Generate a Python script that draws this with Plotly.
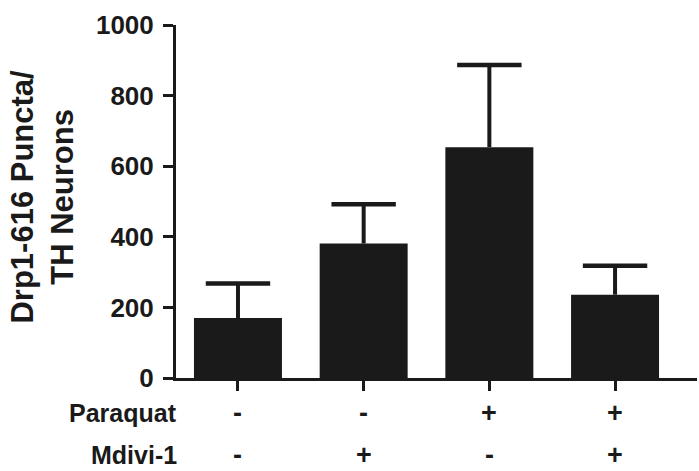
import plotly.graph_objects as go

# Group means and upper SEM for Drp1-616 puncta per TH neuron
groups = ["ctrl", "mdivi", "pq", "pq_mdivi"]
means = [170, 381, 654, 236]
sem_upper = [98, 111, 233, 82]

# Treatment design rows shown under the axis
paraquat = ["-", "-", "+", "+"]
mdivi = ["-", "+", "-", "+"]

y_ticks = [0, 200, 400, 600, 800, 1000]

INK = "#1a1a1a"
FONT = "Liberation Sans, Arial, sans-serif"

x_pos = list(range(len(groups)))
cap_tops = [m + e for m, e in zip(means, sem_upper)]

fig = go.Figure()
# Bars with upward error stems (caps drawn separately so none sit on the bar top)
fig.add_trace(go.Bar(
    x=x_pos,
    y=means,
    width=0.7,
    marker=dict(color=INK, line=dict(width=0)),
    error_y=dict(
        type="data",
        symmetric=False,
        array=sem_upper,
        arrayminus=[0] * len(means),
        color=INK,
        thickness=4,
        width=0,
    ),
    showlegend=False,
    hoverinfo="skip",
))
# Error-bar caps
fig.add_trace(go.Scatter(
    x=x_pos,
    y=cap_tops,
    mode="markers",
    marker=dict(symbol="line-ew", size=46, color=INK,
                line=dict(color=INK, width=4.5)),
    showlegend=False,
    hoverinfo="skip",
    cliponaxis=False,
))

annotations = []
# Y-axis title (two lines, rotated)
annotations.append(dict(
    text="<b>Drp1-616 Puncta/<br>TH Neurons</b>",
    xref="paper", yref="paper", x=-0.256, y=0.513,
    xanchor="center", yanchor="middle", textangle=-90,
    showarrow=False, font=dict(family=FONT, size=31, color=INK),
))

row_labels = [("Paraquat", paraquat, -0.098), ("Mdivi-1", mdivi, -0.218)]
for label, signs, yy in row_labels:
    annotations.append(dict(
        text=f"<b>{label}</b>", xref="paper", yref="paper",
        x=0.006, y=yy, xanchor="right", yanchor="middle",
        showarrow=False, font=dict(family=FONT, size=25, color=INK),
    ))
    for i, s in enumerate(signs):
        annotations.append(dict(
            text=f"<b>{s}</b>", xref="x", yref="paper",
            x=x_pos[i], y=yy, xanchor="center", yanchor="middle",
            showarrow=False, font=dict(family=FONT, size=27, color=INK),
        ))

fig.update_layout(
    width=699, height=471,
    margin=dict(l=176, r=2, t=25, b=93),
    paper_bgcolor="white", plot_bgcolor="white",
    annotations=annotations,
    xaxis=dict(
        range=[-0.493, 3.652],
        tickmode="array", tickvals=x_pos, ticktext=[""] * len(x_pos),
        ticks="outside", ticklen=10, tickwidth=3, tickcolor=INK,
        showline=True, linewidth=3, linecolor=INK,
        showgrid=False, zeroline=False, fixedrange=True,
    ),
    yaxis=dict(
        range=[0, 1000],
        tickmode="array", tickvals=y_ticks,
        ticktext=[f"<b>{v}</b>" for v in y_ticks],
        ticks="outside", ticklen=10, tickwidth=3, tickcolor=INK,
        ticklabelstandoff=4,
        showline=True, linewidth=3, linecolor=INK,
        showgrid=False, zeroline=False,
        tickfont=dict(family=FONT, size=26, color=INK),
    ),
)

fig.write_html("out.html")
